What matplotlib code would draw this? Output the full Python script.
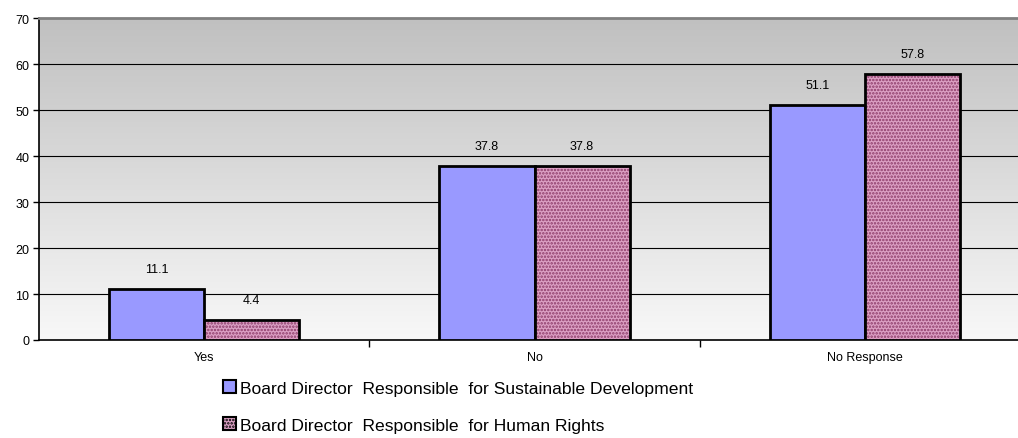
import numpy as np
import matplotlib
matplotlib.use("Agg")
import matplotlib.pyplot as plt
from matplotlib.patches import Patch

plt.rcParams['font.family'] = ['Liberation Sans', 'DejaVu Sans']

categories = ["Yes", "No", "No Response"]
sustainable = [11.1, 37.8, 51.1]
human_rights = [4.4, 37.8, 57.8]
series_names = ["Board Director  Responsible  for Sustainable Development",
                "Board Director  Responsible  for Human Rights"]
yticks = [0, 10, 20, 30, 40, 50, 60, 70]

W, H = 1018, 439
fig = plt.figure(figsize=(W / 100, H / 100), dpi=100)
left, right, top, bottom = 39, 1030, 19, 341
ax = fig.add_axes([left / W, (H - bottom) / H, (right - left) / W, (bottom - top) / H])

# vertical gradient background: grey at top fading to near-white
grad = np.linspace(0, 1, 256).reshape(-1, 1)
top_c = np.array([0xc0, 0xc0, 0xc0]) / 255
bot_c = np.array([0xf8, 0xf8, 0xf8]) / 255
img = top_c + (bot_c - top_c) * grad
ax.imshow(img[:, None, :].repeat(2, axis=1), extent=(-0.5, 2.5, 0, 70),
          aspect='auto', origin='upper', zorder=0)

x = np.arange(len(categories))
bw = 0.288
blue = '#9999ff'
pink_face = '#dca0c4'
pink_hatch = '#8c3a68'

ax.bar(x - bw / 2, sustainable, bw, color=blue, edgecolor='black', linewidth=2, zorder=3)
plt.rcParams['hatch.linewidth'] = 1.2
ax.bar(x + bw / 2, human_rights, bw, color=pink_face, edgecolor=pink_hatch,
       hatch='.....', linewidth=0, zorder=3)
ax.bar(x + bw / 2, human_rights, bw, color='none', edgecolor='black', linewidth=2, zorder=4)

for xi, v in zip(x - bw / 2, sustainable):
    ax.annotate(f"{v}", (xi, v), xytext=(0, 10), textcoords='offset points',
                ha='center', va='bottom', fontsize=9)
for xi, v in zip(x + bw / 2, human_rights):
    ax.annotate(f"{v}", (xi, v), xytext=(0, 10), textcoords='offset points',
                ha='center', va='bottom', fontsize=9)

ax.set_xlim(-0.5, 2.5)
ax.set_ylim(0, 70)
ax.set_yticks(yticks)
ax.tick_params(axis='y', labelsize=9, length=4, width=1, direction='out', pad=3)
for yv in yticks[1:-1]:
    ax.axhline(yv, color='black', linewidth=0.8, zorder=1)

ax.set_xticks(x)
ax.set_xticklabels(categories)
ax.tick_params(axis='x', which='major', length=0, labelsize=9, pad=8)
ax.set_xticks([0.5, 1.5], minor=True)
ax.tick_params(axis='x', which='minor', length=5, width=1, direction='out')

ax.spines['left'].set_color('black')
ax.spines['left'].set_linewidth(1.2)
ax.spines['bottom'].set_color('black')
ax.spines['bottom'].set_linewidth(1.2)
ax.spines['top'].set_color('#808080')
ax.spines['top'].set_linewidth(2)
ax.spines['right'].set_visible(False)

handles = [Patch(facecolor=blue, edgecolor='black', linewidth=1.5),
           Patch(facecolor=pink_face, edgecolor=pink_hatch, hatch='.....', linewidth=1.5)]
leg = fig.legend(handles, series_names, loc='upper left',
                 bbox_to_anchor=(216 / W, 1 - 374 / H), frameon=False,
                 fontsize=12.6, handlelength=0.75, handleheight=0.75,
                 handletextpad=0.2, labelspacing=1.25, borderaxespad=0)
for p in leg.get_patches():
    p.set_edgecolor('black')

fig.savefig("out.png", dpi=100)
